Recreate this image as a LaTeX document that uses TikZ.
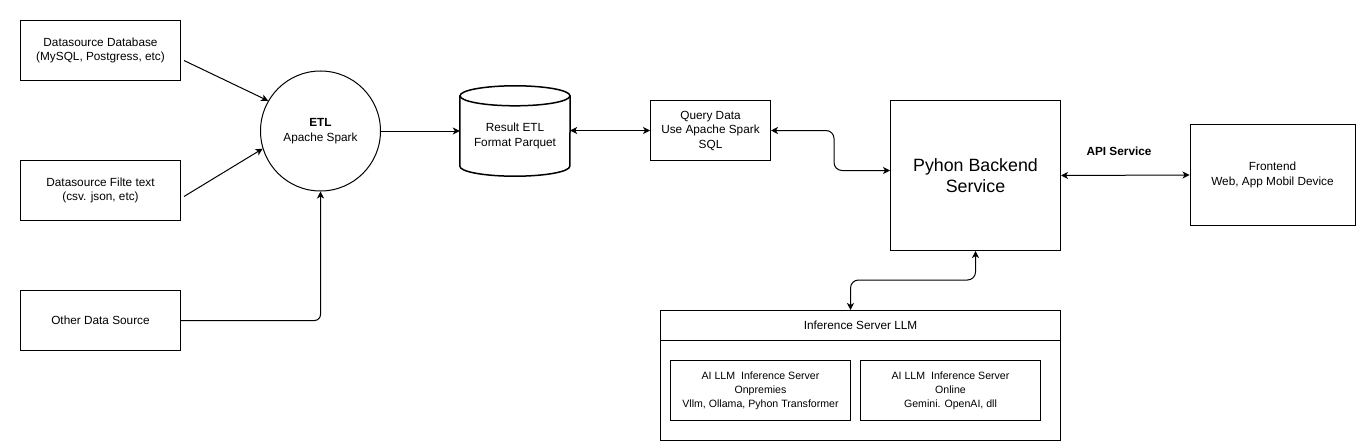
\documentclass[tikz,border=0pt]{standalone}
\usepackage{fontspec}
\setmainfont{Liberation Sans}
\usetikzlibrary{calc}
\usetikzlibrary{arrows.meta}

\tikzset{
  box/.style={draw, line width=1pt, align=center, inner sep=2pt, font=\fontsize{11.8}{14.5}\selectfont},
  lbl/.style={align=center, inner sep=1pt, font=\fontsize{11.8}{14.5}\selectfont},
  arr/.style={line width=1pt, ->, >={Stealth[length=7pt,width=7pt,inset=2pt]}},
  biarr/.style={line width=1pt, <->, >={Stealth[length=7pt,width=7pt,inset=2pt]}},
}

\begin{document}
\begin{tikzpicture}[x=1pt, y=-1pt]
\useasboundingbox (0,0) rectangle (1356,441);
% sources
\node[box, minimum width=160pt, minimum height=60pt] (dbsrc) at (100.5,50.5) {Datasource Database\\(MySQL, Postgress, etc)};
\node[box, minimum width=160pt, minimum height=60pt] (filesrc) at (100.5,190.5) {Datasource Filte text\\(csv. json, etc)};
\node[box, minimum width=160pt, minimum height=60pt] (othersrc) at (100.5,320.5) {Other Data Source};
\node[box, circle, minimum size=120pt] (etl) at (320.5,131) {\textbf{ETL}\\Apache Spark};
% parquet store
\node[lbl, minimum width=110pt, minimum height=80pt] (parquet) at (515,136) {Result ETL\\Format Parquet};
\draw[line width=1.5pt] (parquet.north) ellipse [x radius=55pt, y radius=10pt];
\draw[line width=1.5pt] (parquet.north west) -- ($(parquet.south west)+(0,-10)$) arc[start angle=180, end angle=360, x radius=55pt, y radius=10pt] -- (parquet.north east);
\node[box, minimum width=120pt, minimum height=60pt] (query) at (710.5,130.5) {Query Data\\Use Apache Spark\\SQL};
\node[box, minimum width=170pt, minimum height=150pt, font=\fontsize{17.8}{20.5}\selectfont] (pyhon) at (975.5,175.5) {Pyhon Backend\\Service};
\node[box, minimum width=165pt, minimum height=100pt] (frontend) at (1272.5,175) {Frontend\\Web, App Mobil Device};
% inference
\node[box, minimum width=400pt, minimum height=130pt] (infer) at (860.5,375.5) {};
\node[lbl] (infertitle) at (860.5,325.5) {Inference Server LLM};
\draw[line width=1pt] ([yshift=-30pt]infer.north west) -- ([yshift=-30pt]infer.north east);
\node[box, minimum width=180pt, minimum height=60pt, font=\fontsize{10.6}{14}\selectfont] (onprem) at (760.5,390.5) {AI LLM~ Inference Server\\Onpremies\\Vllm, Ollama, Pyhon Transformer};
\node[box, minimum width=180pt, minimum height=60pt, font=\fontsize{10.6}{14}\selectfont] (online) at (950.5,390.5) {AI LLM~ Inference Server\\Online\\Gemini. OpenAI, dll};
\node[lbl] (apilbl) at (1119,151) {\textbf{API Service}};
% connectors
\draw[arr] ($(dbsrc.east)+(3,10)$) -- (etl.150);
\draw[arr] ($(filesrc.east)+(3,6)$) -- (etl.197);
\draw[arr, rounded corners=6pt] (othersrc.east) -| (etl.south);
\draw[arr] (etl.east) -- (etl.east -| parquet.west);
\draw[biarr] (query.west -| parquet.east) -- (query.west);
\draw[biarr, rounded corners=8pt] (query.east) -- ++(63,0) |- ([yshift=5pt]pyhon.west);
\draw[biarr] (pyhon.east) -- (frontend.west);
\draw[biarr, rounded corners=8pt] (pyhon.south) -- ++(0,29) -| ([xshift=-10pt]infer.north);
\end{tikzpicture}
\end{document}
